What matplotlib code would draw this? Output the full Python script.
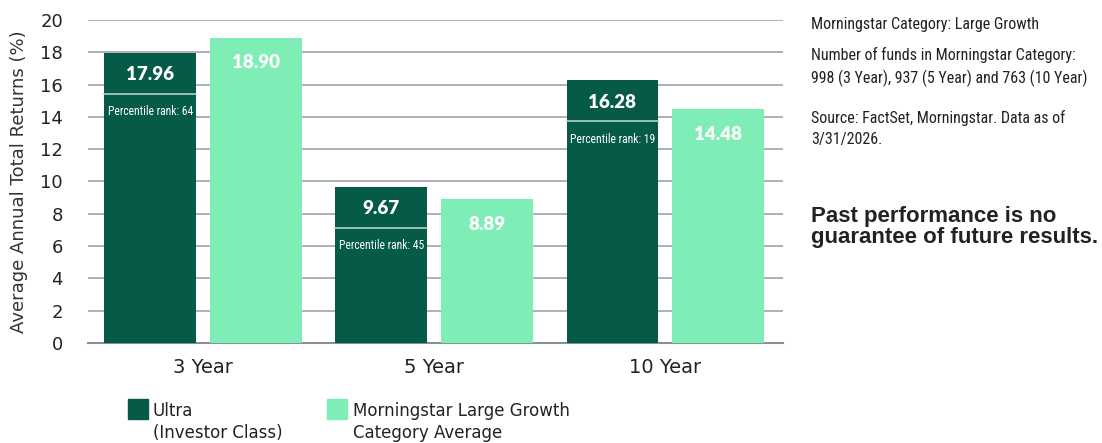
import matplotlib
matplotlib.use("Agg")
import matplotlib.pyplot as plt
import numpy as np
from matplotlib.patches import Rectangle

# Data
periods = ["3 Year", "5 Year", "10 Year"]
ultra = [17.96, 9.67, 16.28]
category_avg = [18.90, 8.89, 14.48]
percentile_rank = [64, 45, 19]

dark = "#055a48"
light = "#7eedb6"
grid_col = "#9ea4ad"

narrow = ["Roboto Condensed", "Barlow Condensed", "DejaVu Sans"]
plt.rcParams["font.family"] = ["DejaVu Sans"]

fig = plt.figure(figsize=(11.02, 4.43), dpi=100)
ax = fig.add_axes([88 / 1102, 1 - 343 / 443, (783 - 88) / 1102, (343 - 20) / 443])

x = np.arange(len(periods))
w = 0.398
off = 0.228
ax.bar(x - off, ultra, w, color=dark, zorder=3)
ax.bar(x + off, category_avg, w, color=light, zorder=3)

ax.set_xlim(-0.498, 2.51)
ax.set_ylim(0, 20)
ax.set_yticks(range(0, 21, 2))
ax.yaxis.grid(True, color=grid_col, linewidth=1.2, zorder=0)
for s in ["top", "right", "left"]:
    ax.spines[s].set_visible(False)
ax.spines["bottom"].set_color("#8a9098")
ax.spines["bottom"].set_linewidth(1.5)
ax.tick_params(axis="y", length=0, labelsize=13, pad=18, colors="#222222")
ax.tick_params(axis="x", length=0, labelsize=14, pad=11, colors="#222222")
ax.set_xticks(x)
ax.set_xticklabels(periods)
ax.set_ylabel("Average Annual Total Returns (%)", fontsize=13, color="#333333", labelpad=9)

px = 20 / 323  # data units per pixel
for i, (u, c, r) in enumerate(zip(ultra, category_avg, percentile_rank)):
    ax.text(x[i] - off, u - 22 * px, f"{u:.2f}", ha="center", va="center",
            color="white", fontsize=13.5, fontweight="heavy", family="Lato", zorder=5)
    ax.plot([x[i] - off - w / 2, x[i] - off + w / 2], [u - 41 * px] * 2,
            color="#b8cfc8", linewidth=1.2, zorder=4)
    ax.text(x[i] - off, u - 59 * px, f"Percentile rank: {r}", ha="center", va="center",
            color="white", fontsize=8.4, family=narrow, zorder=5)
    ax.text(x[i] + off, c - 25 * px, f"{c:.2f}", ha="center", va="center",
            color="white", fontsize=13.5, fontweight="heavy", family="Lato", zorder=5)

# Legend
fig.patches.append(Rectangle((128 / 1102, 1 - 419 / 443), 20 / 1102, 20 / 443,
                             transform=fig.transFigure, color=dark))
fig.text(153 / 1102, 1 - 402 / 443, "Ultra\n(Investor Class)", fontsize=12,
         color="#222222", va="top", linespacing=1.25)
fig.patches.append(Rectangle((327 / 1102, 1 - 419 / 443), 20 / 1102, 20 / 443,
                             transform=fig.transFigure, color=light))
fig.text(353 / 1102, 1 - 402 / 443, "Morningstar Large Growth\nCategory Average", fontsize=12,
         color="#222222", va="top", linespacing=1.25)

# Side notes
fig.text(811 / 1102, 1 - 25 / 443, "Morningstar Category: Large Growth", fontsize=11.5,
         family=narrow, color="#222222", va="center")
fig.text(811 / 1102, 1 - 47 / 443, "Number of funds in Morningstar Category:\n998 (3 Year), 937 (5 Year) and 763 (10 Year)",
         fontsize=11.5, family=narrow, color="#222222", va="top", linespacing=1.5)
fig.text(811 / 1102, 1 - 110 / 443, "Source: FactSet, Morningstar. Data as of\n3/31/2026.",
         fontsize=11.5, family=narrow, color="#222222", va="top", linespacing=1.5)
fig.text(811 / 1102, 1 - 206 / 443, "Past performance is no\nguarantee of future results.",
         fontsize=16, fontweight="bold", family=["Liberation Sans", "DejaVu Sans"],
         color="#222222", va="top", linespacing=1.0)

fig.savefig("out.png", dpi=100)
